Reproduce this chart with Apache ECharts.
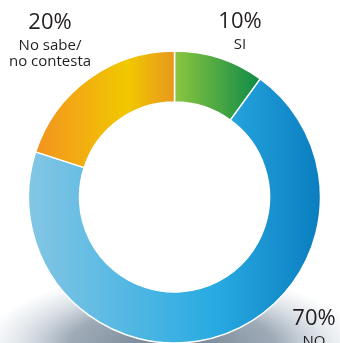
<!DOCTYPE html>
<html>
<head>
<meta charset="utf-8">
<script src="https://cdn.jsdelivr.net/npm/echarts@6/dist/echarts.min.js"></script>
<style>
html,body{margin:0;padding:0;background:#fff;}
#c{width:340px;height:343px;}
</style>
</head>
<body>
<div id="c"></div>
<script>
const categories = ['SI', 'NO', 'No sabe/\nno contesta'];
const values = [10, 70, 20];
const sliceColors = [
  [[0, '#8dc63f'], [1, '#0c8a48']],
  [[0, '#84c6e4'], [0.63, '#29abe2'], [1, '#0a7dbf']],
  [[0, '#f39320'], [0.66, '#f1c800'], [1, '#e8961e']]
];
const labelPos = [[240, 30], [314, 327], [50, 39]];

function grad(stops) {
  return new echarts.graphic.LinearGradient(0, 0, 1, 0,
    stops.map(s => ({offset: s[0], color: s[1]})));
}

const chart = echarts.init(document.getElementById('c'), null, {renderer: 'canvas'});
chart.setOption({
  animation: false,
  backgroundColor: '#fff',
  graphic: [{
    type: 'circle',
    z: -10,
    x: 172, y: 348,
    scaleY: 0.4,
    shape: {cx: 0, cy: 0, r: 190},
    style: {
      fill: new echarts.graphic.RadialGradient(0.5, 0.5, 0.5, [
        {offset: 0, color: 'rgba(70,90,110,0.8)'},
        {offset: 0.55, color: 'rgba(95,115,135,0.6)'},
        {offset: 0.8, color: 'rgba(130,150,170,0.25)'},
        {offset: 1, color: 'rgba(150,170,190,0)'}
      ])
    }
  }, {
    type: 'circle',
    z: -5,
    shape: {cx: 174.5, cy: 197, r: 96},
    style: {fill: '#fff'}
  }],
  series: [{
    type: 'pie',
    center: [174.5, 197],
    radius: [95, 146],
    startAngle: 90,
    clockwise: true,
    z: 5,
    itemStyle: {borderColor: '#fff', borderWidth: 1.5},
    labelLine: {show: false},
    emphasis: {disabled: true},
    label: {
      show: true,
      position: 'outside',
      width: 120,
      overflow: 'none',
      formatter: p => '{p|' + p.value + '%}\n{n|' + p.name + '}',
      color: '#231f20',
      align: 'center',
      rich: {
        p: {fontFamily: 'Open Sans', fontSize: 22, lineHeight: 30, color: '#231f20', align: 'center'},
        n: {fontFamily: 'Open Sans', fontSize: 15, lineHeight: 16, color: '#231f20', align: 'center'}
      }
    },
    labelLayout: p => ({
      x: labelPos[p.dataIndex][0],
      y: labelPos[p.dataIndex][1],
      align: 'center',
      verticalAlign: 'middle',
      hideOverlap: false
    }),
    data: categories.map((c, i) => ({
      name: c,
      value: values[i],
      itemStyle: {color: grad(sliceColors[i])}
    }))
  }]
});
</script>
</body>
</html>
